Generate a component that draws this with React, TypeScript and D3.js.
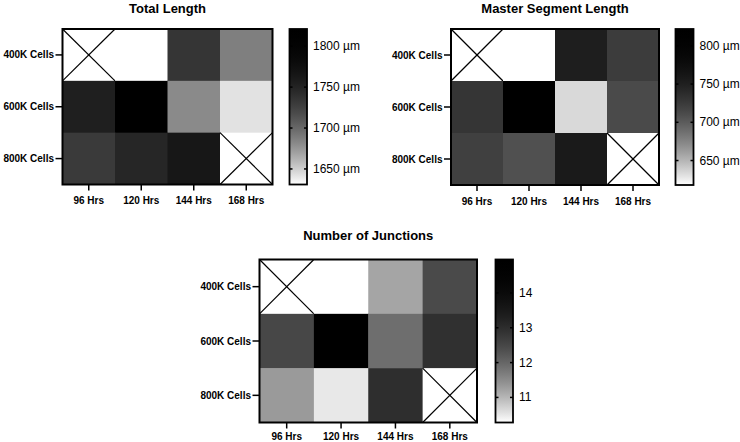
import React from "react";
import * as d3 from "d3";

const timepoints = ["96 Hrs", "120 Hrs", "144 Hrs", "168 Hrs"];
const densities = ["400K Cells", "600K Cells", "800K Cells"];

// Total Length (µm)
const totalLength400 = [null, 1631, 1734, 1687];
const totalLength600 = [1755, 1821, 1681, 1642];
const totalLength800 = [1730, 1748, 1764, null];
const totalLengthDomain = [1631, 1821];
const totalLengthTicks = [1650, 1700, 1750, 1800];

// Master Segment Length (µm)
const masterSeg400 = [null, 618, 752, 723];
const masterSeg600 = [729, 822, 634, 712];
const masterSeg800 = [720, 708, 757, null];
const masterSegDomain = [618, 822];
const masterSegTicks = [650, 700, 750, 800];

// Number of Junctions
const junctions400 = [null, 10.28, 11.2, 12.44];
const junctions600 = [12.49, 14.96, 11.89, 12.93];
const junctions800 = [11.32, 10.5, 12.97, null];
const junctionsDomain = [10.28, 14.96];
const junctionsTicks = [11, 12, 13, 14];

const FONT = "'Liberation Sans', Arial, Helvetica, sans-serif";

const grayInterp = (t: number) => {
  const c = Math.max(0, Math.min(1, t));
  const g = Math.round(255 * (1 - c) * (1 - c));
  return `rgb(${g},${g},${g})`;
};

type HMProps = {
  id: string;
  title: string;
  rows: (number | null)[][];
  domain: number[];
  ticks: number[];
  unit: string;
  x0: number;
  x1: number;
  y0: number;
  y1: number;
  cbX: number;
  cbW: number;
  titleY: number;
  xLabelDy: number;
};

function Heatmap(p: HMProps) {
  const x = d3.scaleBand<string>().domain(timepoints).range([p.x0, p.x1]);
  const y = d3.scaleBand<string>().domain(densities).range([p.y0, p.y1]);
  const color = d3.scaleSequential(grayInterp).domain(p.domain as [number, number]);
  const cbY = d3.scaleLinear().domain(p.domain).range([p.y1, p.y0]);
  const stops = d3.range(0, 1.0001, 0.05);
  const gradId = `grad-${p.id}`;
  return (
    <g>
      <defs>
        <linearGradient id={gradId} x1="0" y1="1" x2="0" y2="0">
          {stops.map((s) => (
            <stop key={s} offset={s} stopColor={grayInterp(s)} />
          ))}
        </linearGradient>
      </defs>
      <text
        x={(p.x0 + p.x1) / 2}
        y={p.titleY}
        textAnchor="middle"
        fontFamily={FONT}
        fontWeight="bold"
        fontSize={13}
      >
        {p.title}
      </text>
      {p.rows.map((row, ri) =>
        row.map((v, ci) => {
          const cx = x(timepoints[ci])!;
          const cy = y(densities[ri])!;
          const w = x.bandwidth();
          const h = y.bandwidth();
          if (v === null) {
            return (
              <g key={`${ri}-${ci}`}>
                <rect x={cx} y={cy} width={w} height={h} fill="#fff" />
                <line x1={cx} y1={cy} x2={cx + w} y2={cy + h} stroke="#000" strokeWidth={1.2} />
                <line x1={cx + w} y1={cy} x2={cx} y2={cy + h} stroke="#000" strokeWidth={1.2} />
              </g>
            );
          }
          return (
            <rect
              key={`${ri}-${ci}`}
              x={cx}
              y={cy}
              width={w + 0.5}
              height={h + 0.5}
              fill={color(v)}
            />
          );
        })
      )}
      <rect
        x={p.x0}
        y={p.y0}
        width={p.x1 - p.x0}
        height={p.y1 - p.y0}
        fill="none"
        stroke="#000"
        strokeWidth={2}
      />
      {densities.map((d) => {
        const cy = y(d)! + y.bandwidth() / 2;
        return (
          <g key={d}>
            <line x1={p.x0 - 7} x2={p.x0} y1={cy} y2={cy} stroke="#000" strokeWidth={1.5} />
            <text
              x={p.x0 - 8.5}
              y={cy + 3.5}
              textAnchor="end"
              fontFamily={FONT}
              fontWeight="bold"
              fontSize={10}
            >
              {d}
            </text>
          </g>
        );
      })}
      {timepoints.map((t) => {
        const cx = x(t)! + x.bandwidth() / 2;
        return (
          <g key={t}>
            <line x1={cx} x2={cx} y1={p.y1} y2={p.y1 + 6} stroke="#000" strokeWidth={1.5} />
            <text
              x={cx}
              y={p.y1 + p.xLabelDy}
              textAnchor="middle"
              fontFamily={FONT}
              fontWeight="bold"
              fontSize={10}
            >
              {t}
            </text>
          </g>
        );
      })}
      <rect
        x={p.cbX}
        y={p.y0}
        width={p.cbW}
        height={p.y1 - p.y0}
        fill={`url(#${gradId})`}
        stroke="#000"
        strokeWidth={1.8}
      />
      {p.ticks.map((t) => {
        const ty = cbY(t);
        return (
          <g key={t}>
            <line x1={p.cbX} x2={p.cbX + 3} y1={ty} y2={ty} stroke="#000" strokeWidth={1.5} />
            <line x1={p.cbX + p.cbW - 3} x2={p.cbX + p.cbW} y1={ty} y2={ty} stroke="#000" strokeWidth={1.5} />
            <text
              x={p.cbX + p.cbW + 6}
              y={ty + 4}
              fontFamily={FONT}
              fontSize={12}
            >
              {p.unit ? `${t} ${p.unit}` : `${t}`}
            </text>
          </g>
        );
      })}
    </g>
  );
}

export default function App() {
  return (
    <svg
      width={740}
      height={442}
      style={{ position: "fixed", left: 0, top: 0, display: "block", background: "#fff" }}
    >
      <rect width={740} height={442} fill="#fff" />
      <Heatmap
        id="tl"
        title="Total Length"
        rows={[totalLength400, totalLength600, totalLength800]}
        domain={totalLengthDomain}
        ticks={totalLengthTicks}
        unit="µm"
        x0={62.5}
        x1={272.5}
        y0={29}
        y1={184.5}
        cbX={289.5}
        cbW={17.5}
        titleY={13}
        xLabelDy={19.5}
      />
      <Heatmap
        id="ms"
        title="Master Segment Length"
        rows={[masterSeg400, masterSeg600, masterSeg800]}
        domain={masterSegDomain}
        ticks={masterSegTicks}
        unit="µm"
        x0={451}
        x1={659}
        y0={29}
        y1={185}
        cbX={675.5}
        cbW={18}
        titleY={13}
        xLabelDy={19.5}
      />
      <Heatmap
        id="nj"
        title="Number of Junctions"
        rows={[junctions400, junctions600, junctions800]}
        domain={junctionsDomain}
        ticks={junctionsTicks}
        unit=""
        x0={259.5}
        x1={477}
        y0={259.5}
        y1={422.5}
        cbX={495.5}
        cbW={17.5}
        titleY={240}
        xLabelDy={17.5}
      />
    </svg>
  );
}
